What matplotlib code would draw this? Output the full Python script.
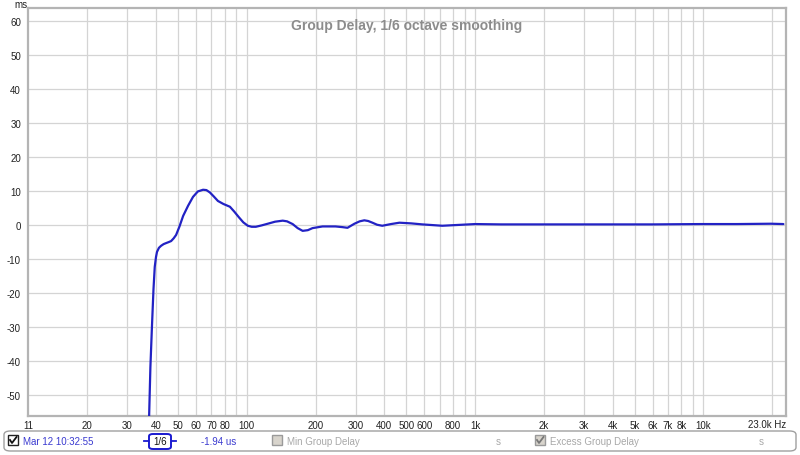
import numpy as np
import matplotlib
matplotlib.use("Agg")
import matplotlib.pyplot as plt
from matplotlib.patches import FancyBboxPatch, Rectangle
from matplotlib.lines import Line2D

plt.rcParams['font.family'] = ['Liberation Sans', 'DejaVu Sans']

# Group delay curve (Hz, ms)
freq_hz = [37.0, 37.3, 37.8, 38.4, 39.0, 39.5, 40.0, 40.4, 41.2, 42.1, 43.2, 44.3,
           45.5, 46.6, 47.8, 49.0, 50.7, 52.6, 55.3, 58.1, 61.0, 64.3, 66.5, 68.9,
           71.7, 74.7, 79.0, 84.3, 88.0, 92.3, 96.5, 101, 105, 109.5, 116, 123.5,
           133, 143.6, 150, 158.7, 167, 175.6, 185, 193.9, 214.6, 244.5, 262, 276,
           296, 312, 327, 340, 355, 372, 392, 428, 466, 525, 587, 650, 718, 820,
           1000, 1300, 1600, 2500, 3580, 6000, 9800, 14000, 19800, 22400]
delay_ms = [-60, -57, -42, -30, -19, -12.4, -9.5, -8.0, -6.8, -6.2, -5.7, -5.4,
            -5.1, -4.8, -4.0, -3.0, -0.5, 2.6, 5.6, 8.2, 9.8, 10.3, 10.2, 9.5,
            8.3, 7.0, 6.1, 5.3, 3.9, 2.2, 0.7, -0.3, -0.6, -0.6, -0.2, 0.3,
            0.9, 1.2, 1.0, 0.2, -1.0, -1.8, -1.6, -1.0, -0.5, -0.5, -0.7, -0.9,
            0.3, 1.0, 1.3, 1.1, 0.6, 0.0, -0.3, 0.2, 0.6, 0.4, 0.1, -0.1, -0.3, -0.1,
            0.2, 0.1, 0.1, 0.1, 0.1, 0.1, 0.2, 0.2, 0.3, 0.2]

y_ticks = [-50, -40, -30, -20, -10, 0, 10, 20, 30, 40, 50, 60]
x_ticks = [11, 20, 30, 40, 50, 60, 70, 80, 100, 200, 300, 400, 500, 600, 800,
           1000, 2000, 3000, 4000, 5000, 6000, 7000, 8000, 10000]
x_tick_labels = ['11', '20', '30', '40', '50', '60', '70', '80', '100', '200', '300',
                 '400', '500', '600', '800', '1k', '2k', '3k', '4k', '5k', '6k', '7k',
                 '8k', '10k']
x_grid = [20, 30, 40, 50, 60, 70, 80, 90, 100, 200, 300, 400, 500, 600, 700, 800, 900,
          1000, 2000, 3000, 4000, 5000, 6000, 7000, 8000, 9000, 10000, 20000]

W, H = 800, 456
fig = plt.figure(figsize=(W / 100, H / 100), dpi=100)
fig.patch.set_facecolor('white')

# axes placed in pixel terms
left, right, top, bottom = 28, 786, 9, 417
ax = fig.add_axes([left / W, 1 - bottom / H, (right - left) / W, (bottom - top) / H])
ax.set_xscale('log')
ax.set_xlim(11.3, 23000)
ax.set_ylim(-56.3, 63.8)

for xv in x_grid:
    ax.axvline(xv, color='#d4d4d4', lw=0.9, zorder=0)
for yv in y_ticks:
    ax.axhline(yv, color='#d4d4d4', lw=0.9, zorder=0)

ax.plot(freq_hz, delay_ms, color='#2222c4', lw=1.6, solid_capstyle='round', zorder=3)

ax.set_yticks(y_ticks)
ax.set_yticklabels([str(v) for v in y_ticks])
ax.set_xticks(x_ticks)
ax.set_xticklabels(x_tick_labels)
ax.xaxis.set_minor_locator(matplotlib.ticker.NullLocator())
ax.tick_params(axis='both', length=0, labelsize=7, colors='#222222')
ax.tick_params(axis='x', pad=3)
ax.tick_params(axis='y', pad=5)
for sp in ax.spines.values():
    sp.set_color('#b4b4b4')
    sp.set_linewidth(1.6)

ax.text(1.0, -0.0075, '23.0k Hz', transform=ax.transAxes, ha='right', va='top',
        fontsize=7, color='#222222')
fig.text(14 / W, 1 - 5 / H, 'ms', ha='left', va='center', fontsize=7, color='#222222')

ax.text(0.5, 0.975, 'Group Delay, 1/6 octave smoothing', transform=ax.transAxes,
        ha='center', va='top', fontsize=10, fontweight='bold', color='#8c8c8c')


def px(x, y):
    return x / W, 1 - y / H


# legend bar
x0, y0 = px(4, 452)
bar = FancyBboxPatch((x0, y0), 792 / W, 20 / H, boxstyle='round,pad=0,rounding_size=0.008',
                     transform=fig.transFigure, facecolor='white', edgecolor='#a0a0a0',
                     lw=1.0)
fig.patches.append(bar)


def checkbox(x, y, edge, fill, tick):
    bx, by = px(x, y + 10)
    fig.patches.append(Rectangle((bx, by), 10 / W, 10 / H, transform=fig.transFigure,
                                 facecolor=fill, edgecolor=edge, lw=1.0))
    if tick:
        xs = [x + 2, x + 4, x + 8.5]
        ys = [y + 5, y + 8, y + 2]
        fig.lines.append(Line2D([v / W for v in xs], [1 - v / H for v in ys],
                                transform=fig.transFigure, color=tick, lw=1.3))


checkbox(8, 436, '#222222', 'white', '#111111')
checkbox(272, 436, '#9a9a9a', '#d8d4cc', None)
checkbox(535, 436, '#9a9a9a', '#d8d4cc', '#777777')

yc = 1 - 442 / H
fig.text(23 / W, yc, 'Mar 12 10:32:55', color='#3a3ad0', fontsize=7, va='center')
fig.text(201 / W, yc, '-1.94 us', color='#3a3ad0', fontsize=7, va='center')
fig.text(287 / W, yc, 'Min Group Delay', color='#a8a8a8', fontsize=7, va='center')
fig.text(496 / W, yc, 's', color='#a8a8a8', fontsize=7, va='center')
fig.text(550 / W, yc, 'Excess Group Delay', color='#a8a8a8', fontsize=7, va='center')
fig.text(759 / W, yc, 's', color='#a8a8a8', fontsize=7, va='center')

# smoothing indicator box
fig.lines.append(Line2D([144 / W, 176 / W], [yc, yc], transform=fig.transFigure,
                        color='#1a1ad0', lw=1.3))
sx, sy = px(149, 450)
fig.patches.append(FancyBboxPatch((sx, sy), 22 / W, 15 / H,
                                  boxstyle='round,pad=0,rounding_size=0.005',
                                  transform=fig.transFigure, facecolor='white',
                                  edgecolor='#1a1ad0', lw=1.4, zorder=5))
fig.text(160 / W, yc, '1/6', color='#111111', fontsize=7, ha='center', va='center',
         zorder=6)

fig.savefig('out.png', dpi=100)
